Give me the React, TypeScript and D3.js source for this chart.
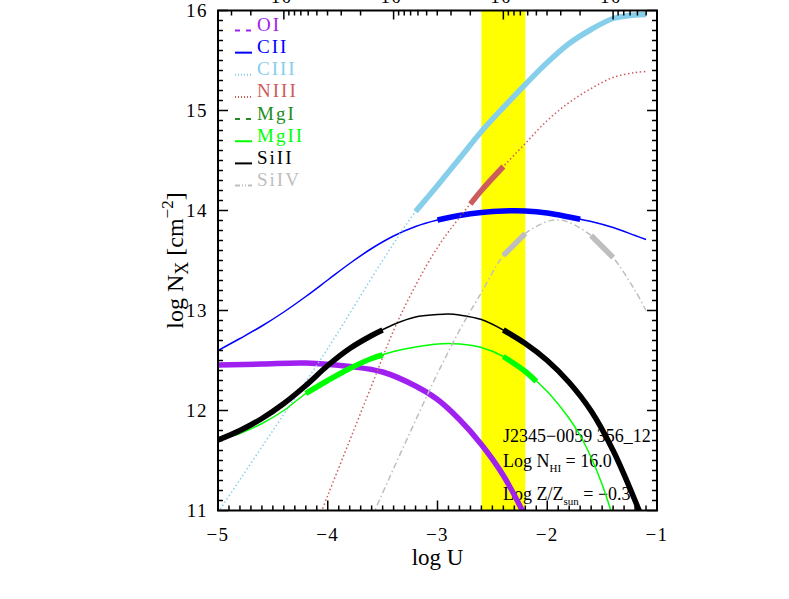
import React from "react";
import * as d3 from "d3";

// ---- data (log U on x, log N on y) ----
const oiU = [-5.0, -4.6, -4.2, -3.8, -3.5, -3.2, -3.0, -2.8, -2.6, -2.4, -2.2];
const oiN = [12.455, 12.465, 12.475, 12.44, 12.385, 12.245, 12.11, 11.91, 11.66, 11.35, 10.94];

const ciiU = [-5.0, -4.8, -4.6, -4.4, -4.2, -4.0, -3.8, -3.6, -3.4, -3.2, -3.0, -2.8, -2.6, -2.4, -2.2, -2.0, -1.8, -1.6, -1.4, -1.2, -1.1];
const ciiN = [12.6, 12.72, 12.845, 12.985, 13.14, 13.305, 13.47, 13.62, 13.745, 13.84, 13.905, 13.95, 13.98, 13.995, 13.995, 13.975, 13.935, 13.89, 13.83, 13.75, 13.71];

const ciiiU = [-5.0, -4.5, -4.0, -3.5, -3.2, -3.0, -2.8, -2.6, -2.4, -2.2, -2.0, -1.8, -1.6, -1.4, -1.2, -1.1];
const ciiiN = [10.98, 11.8, 12.62, 13.5, 13.99, 14.25, 14.52, 14.79, 15.03, 15.26, 15.48, 15.67, 15.81, 15.92, 15.955, 15.96];

const niiiU = [-4.1, -4.0, -3.8, -3.6, -3.4, -3.2, -3.0, -2.8, -2.6, -2.4, -2.2, -2.0, -1.8, -1.6, -1.4, -1.2, -1.1];
const niiiN = [10.87, 11.15, 11.7, 12.25, 12.8, 13.25, 13.63, 13.93, 14.2, 14.44, 14.67, 14.9, 15.08, 15.22, 15.33, 15.38, 15.39];

const mgiU: number[] = [];
const mgiN: number[] = [];

const mgiiU = [-5.0, -4.8, -4.6, -4.4, -4.2, -4.0, -3.8, -3.6, -3.4, -3.2, -3.0, -2.9, -2.8, -2.6, -2.4, -2.2, -2.0, -1.8, -1.7, -1.6, -1.5, -1.4];
const mgiiN = [11.705, 11.77, 11.87, 12.0, 12.17, 12.3, 12.42, 12.52, 12.59, 12.635, 12.665, 12.67, 12.665, 12.63, 12.54, 12.39, 12.19, 11.92, 11.75, 11.53, 11.26, 10.93];

const siiiU = [-5.0, -4.8, -4.6, -4.4, -4.2, -4.0, -3.8, -3.6, -3.4, -3.2, -3.0, -2.9, -2.8, -2.6, -2.4, -2.2, -2.0, -1.8, -1.6, -1.4, -1.2, -1.1];
const siiiN = [11.705, 11.8, 11.92, 12.07, 12.25, 12.45, 12.62, 12.75, 12.86, 12.935, 12.96, 12.965, 12.955, 12.91, 12.805, 12.67, 12.5, 12.28, 11.995, 11.6, 11.1, 10.82];

const siivU = [-3.6, -3.4, -3.2, -3.0, -2.8, -2.6, -2.4, -2.2, -2.0, -1.9, -1.8, -1.6, -1.4, -1.2, -1.1];
const siivN = [10.93, 11.42, 11.9, 12.37, 12.8, 13.18, 13.55, 13.77, 13.89, 13.905, 13.88, 13.75, 13.53, 13.2, 13.0];

const ionNames = ["OI", "CII", "CIII", "NIII", "MgI", "MgII", "SiII", "SiIV"];
const ionColors = ["#a020f0", "#0000ff", "#87ceeb", "#cd5c5c", "#228b22", "#00ff00", "#000000", "#bebebe"];
const ionDash = ["5,4", "", "1.5,2.5", "1.5,2.5", "5,4", "", "", "6,3,1.5,3"];
const legendDash = ["5,6", "", "1,2", "1,2", "5,6", "", "", "5,2,1,2,1,2"];
const thickRanges: number[][][] = [
  [[-5, -1]],
  [[-3.0, -1.7]],
  [[-3.2, -1.0]],
  [[-2.7, -2.4]],
  [],
  [[-4.2, -3.5], [-2.4, -2.1]],
  [[-5, -3.5], [-2.4, -1.0]],
  [[-2.4, -2.2], [-1.6, -1.4]],
];
const seriesU = [oiU, ciiU, ciiiU, niiiU, mgiU, mgiiU, siiiU, siivU];
const seriesN = [oiN, ciiN, ciiiN, niiiN, mgiN, mgiiN, siiiN, siivN];

const bandU = [-2.6, -2.2];
const xTicks = [-5, -4, -3, -2, -1];
const yTicks = [11, 12, 13, 14, 15, 16];
const topMajors = [-4.4, -3.4, -2.4, -1.4];
const topLabels = ["\u22121", "\u22122", "\u22123", "\u22124"];

const FONT = "'Liberation Serif','Times New Roman',Times,serif";

export default function App() {
  const L = 218, R = 657, T = 10.5, B = 510.5;
  const x = d3.scaleLinear().domain([-5, -1]).range([L, R]);
  const y = d3.scaleLinear().domain([11, 16]).range([B, T]);
  const line = d3
    .line<[number, number]>()
    .x((d) => x(d[0]))
    .y((d) => y(d[1]))
    .curve(d3.curveCatmullRom.alpha(0.5));

  const interp = (us: number[], ns: number[], u: number) => {
    for (let i = 0; i < us.length - 1; i++) {
      if (u >= us[i] && u <= us[i + 1]) {
        const t = (u - us[i]) / (us[i + 1] - us[i]);
        return ns[i] + t * (ns[i + 1] - ns[i]);
      }
    }
    return NaN;
  };

  const segPts = (us: number[], ns: number[], a: number, b: number) => {
    const lo = Math.max(a, us[0]);
    const hi = Math.min(b, us[us.length - 1]);
    const pts: [number, number][] = [[lo, interp(us, ns, lo)]];
    us.forEach((u, i) => {
      if (u > lo + 1e-6 && u < hi - 1e-6) pts.push([u, ns[i]]);
    });
    pts.push([hi, interp(us, ns, hi)]);
    return pts;
  };

  // ticks
  const minorX = d3.range(-50, -9).map((v) => v / 10);
  const minorY = d3.range(110, 161).map((v) => v / 10);
  const topMinor: number[] = [];
  const fr = [2, 3, 4, 5, 6, 7, 8, 9].map((j) => 1 - Math.log10(j));
  [-5.4, ...topMajors].forEach((m) => fr.forEach((f) => {
    const u = m + f;
    if (u > -4.995 && u < -1.005) topMinor.push(u);
  }));

  const tickEls: React.ReactNode[] = [];
  minorX.forEach((u, i) => {
    const major = Math.abs(u - Math.round(u)) < 1e-6;
    const len = major ? 10 : 5;
    tickEls.push(<line key={"bx" + i} x1={x(u)} x2={x(u)} y1={B} y2={B - len} />);
  });
  minorY.forEach((v, i) => {
    const major = Math.abs(v - Math.round(v)) < 1e-6;
    const len = major ? 10 : 5;
    tickEls.push(<line key={"ly" + i} x1={L} x2={L + len} y1={y(v)} y2={y(v)} />);
    tickEls.push(<line key={"ry" + i} x1={R} x2={R - len} y1={y(v)} y2={y(v)} />);
  });
  topMajors.forEach((u, i) => tickEls.push(<line key={"tM" + i} x1={x(u)} x2={x(u)} y1={T} y2={T + 9} />));
  topMinor.forEach((u, i) => tickEls.push(<line key={"tm" + i} x1={x(u)} x2={x(u)} y1={T} y2={T + 5} />));

  return (
    <svg width={789} height={599} style={{ position: "absolute", left: 0, top: 0, background: "#fff" }} fontFamily={FONT}>
      <defs>
        <clipPath id="plot">
          <rect x={L} y={T} width={R - L} height={B - T} />
        </clipPath>
      </defs>
      <rect x={0} y={0} width={789} height={599} fill="#fff" />
      {/* highlight band */}
      <rect x={x(bandU[0])} y={T} width={x(bandU[1]) - x(bandU[0])} height={B - T} fill="#ffff00" />

      {/* annotation text */}
      <g fontSize={18} fill="#000">
        <text x={503} y={441.7}>J2345{"\u2212"}0059 356_12</text>
        <text x={503} y={466.7}>
          Log N<tspan fontSize={11} dy={5}>HI</tspan>
          <tspan dy={-5}> = 16.0</tspan>
        </text>
        <text x={503} y={500}>
          Log Z/Z<tspan fontSize={11} dy={5}>sun</tspan>
          <tspan dy={-5}> = {"\u2212"}0.3</tspan>
        </text>
      </g>

      {/* curves */}
      <g clipPath="url(#plot)" fill="none">
        {seriesU.map((us, k) =>
          us.length ? (
            <g key={"s" + k}>
              <path
                d={line(us.map((u, i) => [u, seriesN[k][i]] as [number, number])) || ""}
                stroke={ionColors[k]}
                strokeWidth={1.5}
                strokeDasharray={ionDash[k] || undefined}
              />
              {thickRanges[k].map((r, j) => (
                <path
                  key={j}
                  d={line(segPts(us, seriesN[k], r[0], r[1])) || ""}
                  stroke={ionColors[k]}
                  strokeWidth={5.5}
                />
              ))}
            </g>
          ) : null
        )}
      </g>

      {/* frame and ticks */}
      <g stroke="#000" strokeWidth={1.5}>{tickEls}</g>
      <rect x={L} y={T} width={R - L} height={B - T} fill="none" stroke="#000" strokeWidth={2} />

      {/* axis labels */}
      <g fontSize={19} fill="#000" letterSpacing={1.5}>
        {xTicks.map((u) => (
          <text key={"xl" + u} x={x(u)} y={541} textAnchor="middle">
            {u < 0 ? "\u2212" + Math.abs(u) : String(u)}
          </text>
        ))}
        {yTicks.map((v) => (
          <text key={"yl" + v} x={208} y={y(v) + 6.5} textAnchor="end">
            {v}
          </text>
        ))}
        {topMajors.map((u, i) => (
          <text key={"tl" + i} x={x(u) - 13} y={2.5}>
            10<tspan fontSize={12} dy={-8}>{topLabels[i]}</tspan>
          </text>
        ))}
      </g>
      <text x={x(-3)} y={565} textAnchor="middle" fontSize={23}>log U</text>
      <text transform={`translate(183,${(T + B) / 2}) rotate(-90)`} textAnchor="middle" fontSize={24}>
        log N<tspan fontSize={18} dy={5}>X</tspan>
        <tspan dy={-5}> [cm</tspan>
        <tspan fontSize={17} dy={-10}>{"\u2212"}2</tspan>
        <tspan dy={10}>]</tspan>
      </text>

      {/* legend */}
      <g fontSize={19} letterSpacing={2}>
        {ionNames.map((n, i) => {
          const by = 31 + i * 22.15;
          return (
            <g key={"lg" + n}>
              <line x1={235} x2={252} y1={by - 0.5} y2={by - 0.5} stroke={ionColors[i]} strokeWidth={2}
                strokeDasharray={legendDash[i] || undefined} />
              <text x={257} y={by} fill={ionColors[i]}>{n}</text>
            </g>
          );
        })}
      </g>
    </svg>
  );
}
